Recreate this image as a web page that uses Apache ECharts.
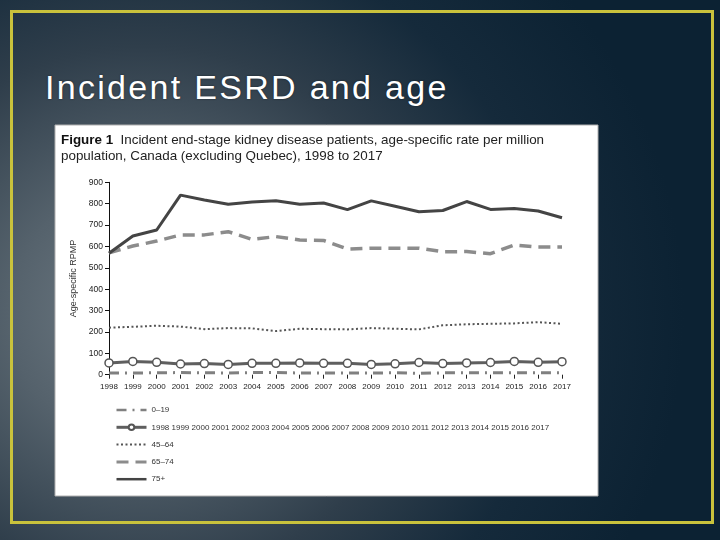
<!DOCTYPE html>
<html>
<head>
<meta charset="utf-8">
<script src="https://cdn.jsdelivr.net/npm/echarts@6/dist/echarts.min.js"></script>
<style>
  html, body { margin: 0; padding: 0; width: 720px; height: 540px; overflow: hidden; }
  body {
    background: radial-gradient(ellipse 75% 95% at 20% 58%, #717d86 0%, #55626c 25%, #2f3e4b 52%, #152a3b 75%, #0c2233 100%);
    position: relative;
  }
  #frame { position: absolute; left: 10px; top: 10px; width: 698px; height: 508px; border: 3px solid #c9c23c; box-sizing: content-box; }
  #slideTitle { position: absolute; left: 45px; top: 70px; color: #ffffff; font-family: "Liberation Sans", Arial, sans-serif; font-size: 34px; line-height: 34px; letter-spacing: 2.3px; white-space: nowrap; text-shadow: 0 0 2px rgba(0,0,0,0.5); }
  #chart { position: absolute; left: 0; top: 0; width: 720px; height: 540px; }
</style>
</head>
<body>
<div id="frame"></div>
<div id="slideTitle">Incident ESRD and age</div>
<div id="chart"></div>
<script>
const years = ['1998','1999','2000','2001','2002','2003','2004','2005','2006','2007','2008','2009','2010','2011','2012','2013','2014','2015','2016','2017'];
const seriesNames = ['0–19', '1998 1999 2000 2001 2002 2003 2004 2005 2006 2007 2008 2009 2010 2011 2012 2013 2014 2015 2016 2017', '45–64', '65–74', '75+'];
const age0to19 = [8, 8, 9, 10, 9, 8, 10, 10, 8, 8, 8, 8, 9, 6, 9, 9, 9, 9, 9, 9];
const age20to44 = [55, 62, 58, 50, 52, 48, 53, 53, 55, 53, 53, 48, 51, 57, 52, 55, 57, 62, 58, 61];
const age45to64 = [220, 224, 229, 225, 213, 218, 217, 204, 215, 213, 212, 218, 215, 212, 231, 236, 238, 240, 246, 238];
const age65to74 = [570, 602, 625, 654, 654, 669, 633, 646, 630, 628, 588, 592, 592, 592, 575, 576, 566, 607, 597, 597];
const age75plus = [568, 649, 677, 840, 817, 797, 808, 814, 797, 803, 772, 813, 788, 762, 768, 810, 773, 777, 766, 734];
const yTicks = { min: 0, max: 900, interval: 100 };

const sans = '"Liberation Sans", Arial, sans-serif';
const chart = echarts.init(document.getElementById('chart'), null, { renderer: 'canvas' });
const hidden = { opacity: 0 };
chart.setOption({
  backgroundColor: 'transparent',
  animation: false,
  graphic: [{
    type: 'rect', z: -10, silent: true,
    shape: { x: 55, y: 125, width: 543, height: 371 },
    style: { fill: '#ffffff', stroke: '#b0b0b0', lineWidth: 1 }
  }],
  title: {
    left: 56, top: 127,
    text: '{b|Figure 1}  Incident end-stage kidney disease patients, age-specific rate per million\npopulation, Canada (excluding Quebec), 1998 to 2017',
    textStyle: {
      fontFamily: sans, fontSize: 13.4, fontWeight: 'normal', color: '#222', lineHeight: 16.5,
      rich: { b: { fontFamily: sans, fontSize: 13.4, fontWeight: 'bold', color: '#111', lineHeight: 16.5 } }
    }
  },
  legend: {
    orient: 'vertical', left: 110, top: 400,
    itemWidth: 30, itemHeight: 7, itemGap: 7.3,
    textStyle: { fontFamily: sans, fontSize: 8, color: '#333', lineHeight: 10 },
    data: [
      { name: seriesNames[0], itemStyle: hidden, lineStyle: { width: 2.5 } },
      { name: seriesNames[1], lineStyle: { width: 3 } },
      { name: seriesNames[2], itemStyle: hidden, lineStyle: { width: 2 } },
      { name: seriesNames[3], itemStyle: hidden, lineStyle: { width: 3 } },
      { name: seriesNames[4], itemStyle: hidden, lineStyle: { width: 2.5 } }
    ]
  },
  grid: { left: 109, right: 158, top: 182.3, bottom: 165.3 },
  xAxis: {
    type: 'category', data: years, boundaryGap: false,
    axisLine: { show: false },
    axisTick: { show: true, alignWithLabel: true, interval: 0, length: 4, lineStyle: { color: '#222' } },
    axisLabel: { interval: 0, fontFamily: sans, fontSize: 8, color: '#222', margin: 8 }
  },
  yAxis: {
    type: 'value', min: yTicks.min, max: yTicks.max, interval: yTicks.interval,
    name: 'Age-specific RPMP', nameLocation: 'middle', nameGap: 30, nameRotate: 90,
    nameTextStyle: { fontFamily: sans, fontSize: 9, color: '#333' },
    splitLine: { show: false },
    axisLine: { show: true, lineStyle: { color: '#111', width: 1 } },
    axisTick: { show: true, length: 4, lineStyle: { color: '#111' } },
    axisLabel: { fontFamily: sans, fontSize: 8.5, color: '#222', margin: 6 }
  },
  series: [
    { name: seriesNames[0], type: 'line', data: age0to19, symbol: 'none', z: 2,
      lineStyle: { color: '#808080', width: 3, type: [10, 6, 2, 6] }, itemStyle: { color: '#808080' } },
    { name: seriesNames[1], type: 'line', data: age20to44, symbol: 'circle', symbolSize: 8, z: 3,
      lineStyle: { color: '#5f5f5f', width: 3 }, itemStyle: { color: '#ffffff', borderColor: '#555555', borderWidth: 1.5 } },
    { name: seriesNames[2], type: 'line', data: age45to64, symbol: 'none', z: 2,
      lineStyle: { color: '#555555', width: 2, type: [2, 2.5] }, itemStyle: { color: '#555555' } },
    { name: seriesNames[3], type: 'line', data: age65to74, symbol: 'none', z: 2,
      lineStyle: { color: '#8c8c8c', width: 3.5, type: [12, 7] }, itemStyle: { color: '#8c8c8c' } },
    { name: seriesNames[4], type: 'line', data: age75plus, symbol: 'none', z: 4,
      lineStyle: { color: '#444444', width: 3 }, itemStyle: { color: '#444444' } }
  ]
});
</script>
</body>
</html>
